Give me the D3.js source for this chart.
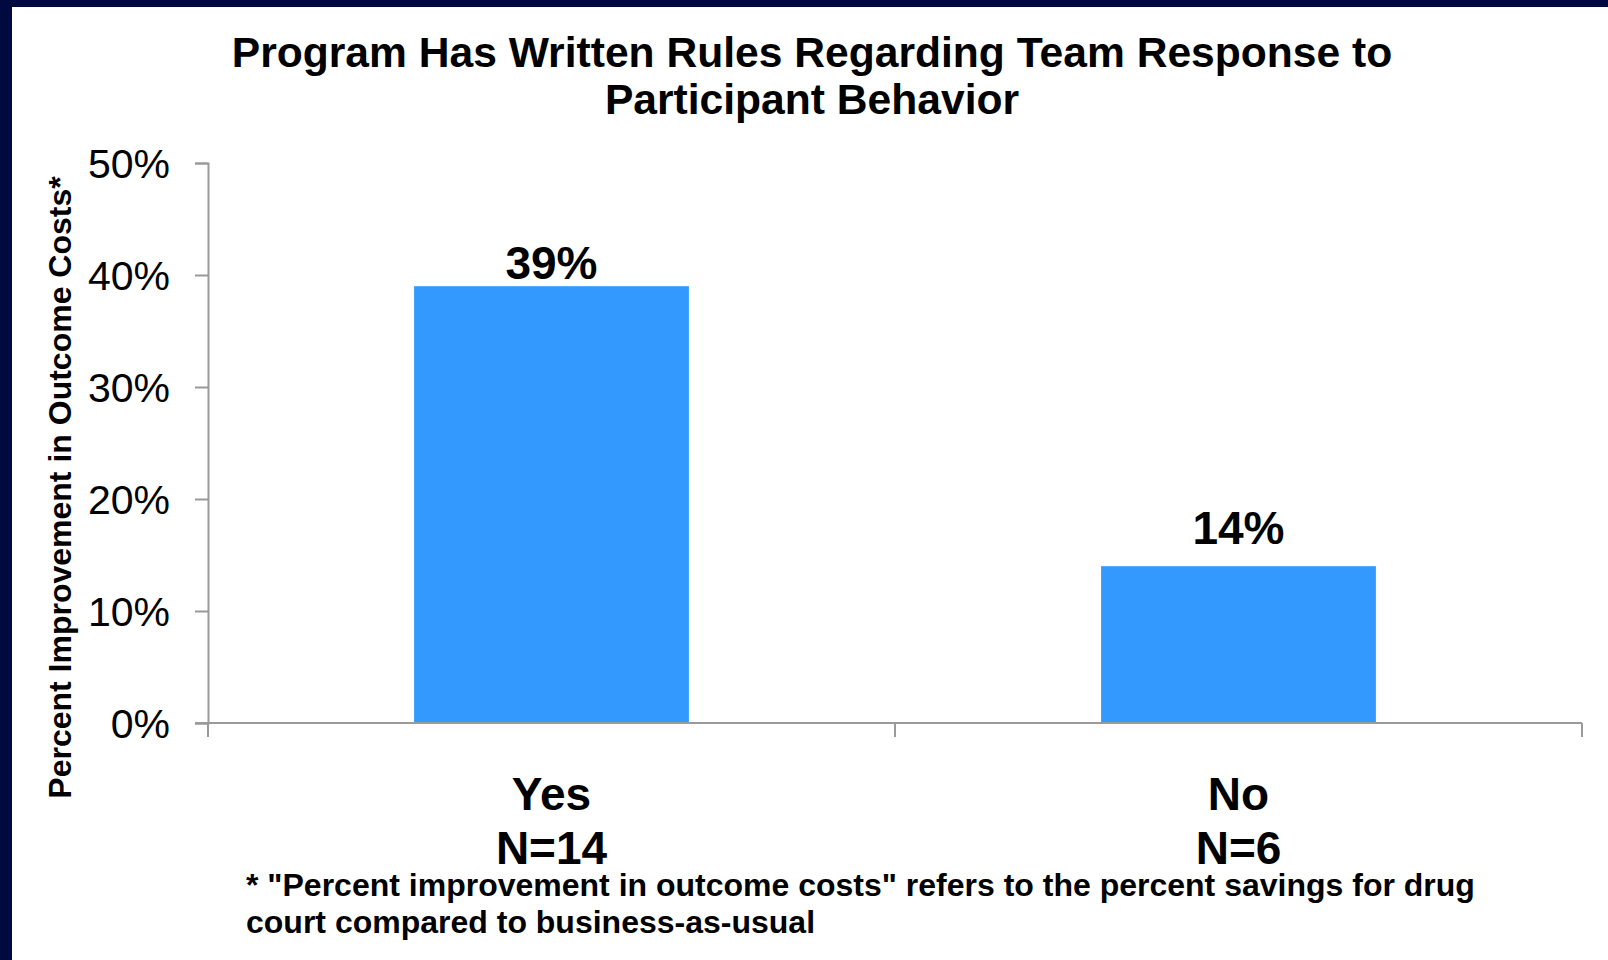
<!DOCTYPE html>
<html>
<head>
<meta charset="utf-8">
<script src="https://cdn.jsdelivr.net/npm/d3@7"></script>
<style>
  html, body { margin: 0; padding: 0; background: #ffffff; }
  svg { display: block; font-family: "Liberation Sans", Arial, sans-serif; }
</style>
</head>
<body>
<svg id="chart" width="1608" height="960"></svg>
<script>
// ---- data ----
const categories = ["Yes", "No"];
const sampleSizes = ["N=14", "N=6"];
const values = [39, 14];
const yTicks = [0, 10, 20, 30, 40, 50];
const titleLines = ["Program Has Written Rules Regarding Team Response to", "Participant Behavior"];
const yAxisTitle = "Percent Improvement in Outcome Costs*";
const footnoteLines = [
  "* \"Percent improvement in outcome costs\" refers to the percent savings for drug",
  "court compared to business-as-usual"
];

// ---- layout ----
const W = 1608, H = 960;
const plot = { left: 208, right: 1582, top: 163, bottom: 723 };
const navy = "#000940";
const barColor = "#3399FF";
const axisColor = "#9a9a9a";
const labelGap = [7, 22];

const svg = d3.select("#chart");

// frame
svg.append("rect").attr("x", 0).attr("y", 0).attr("width", W).attr("height", H).attr("fill", "#fff");
svg.append("rect").attr("x", 0).attr("y", 0).attr("width", W).attr("height", 7).attr("fill", navy);
svg.append("rect").attr("x", 0).attr("y", 0).attr("width", 12).attr("height", H).attr("fill", navy);

// scales
const x = d3.scaleBand().domain(categories).range([plot.left, plot.right])
  .paddingInner(0.6).paddingOuter(0.3);
const y = d3.scaleLinear().domain([0, 50]).range([plot.bottom, plot.top]);

// title
const title = svg.append("text").attr("text-anchor", "middle")
  .attr("font-weight", "bold").attr("font-size", 42.6).attr("fill", "#000");
titleLines.forEach((t, i) => {
  title.append("tspan").attr("x", 812).attr("y", 67 + i * 47).text(t);
});

// bars
svg.append("g").selectAll("rect").data(values).join("rect")
  .attr("x", (d, i) => x(categories[i]))
  .attr("y", d => y(d))
  .attr("width", x.bandwidth())
  .attr("height", d => y(0) - y(d))
  .attr("fill", barColor);

// value labels
svg.append("g").selectAll("text").data(values).join("text")
  .attr("x", (d, i) => x(categories[i]) + x.bandwidth() / 2)
  .attr("y", (d, i) => y(d) - labelGap[i])
  .attr("text-anchor", "middle")
  .attr("font-weight", "bold").attr("font-size", 46).attr("fill", "#000")
  .text(d => d + "%");

// y axis
const yAxis = d3.axisLeft(y).tickValues(yTicks).tickFormat(d => d + "%").tickSize(13).tickPadding(25);
const gy = svg.append("g").attr("transform", `translate(${plot.left},0)`).call(yAxis);
gy.select(".domain").attr("stroke", axisColor).attr("stroke-width", 2);
gy.selectAll(".tick line").attr("stroke", axisColor).attr("stroke-width", 2);
gy.selectAll(".tick text").attr("font-size", 41).attr("fill", "#000")
  .attr("font-family", "Liberation Sans, Arial, sans-serif").attr("dy", "0.35em");

// x axis: line with ticks at band boundaries
const boundaries = [plot.left, ...categories.slice(1).map(c => x(c) - x.step() * x.paddingInner() / 2), plot.right];
const gx = svg.append("g");
gx.append("line").attr("x1", plot.left - 13).attr("x2", plot.right)
  .attr("y1", y(0)).attr("y2", y(0)).attr("stroke", axisColor).attr("stroke-width", 2);
gx.selectAll("line.tk").data(boundaries).join("line").attr("class", "tk")
  .attr("x1", d => d).attr("x2", d => d)
  .attr("y1", y(0)).attr("y2", y(0) + 14)
  .attr("stroke", axisColor).attr("stroke-width", 2);

// category labels
const cat = svg.append("g").selectAll("text").data(categories).join("text")
  .attr("text-anchor", "middle").attr("font-weight", "bold").attr("font-size", 46).attr("fill", "#000");
cat.append("tspan").attr("x", d => x(d) + x.bandwidth() / 2).attr("y", 810).text(d => d);
cat.append("tspan").attr("x", d => x(d) + x.bandwidth() / 2).attr("y", 864)
  .text((d, i) => sampleSizes[i]);

// y-axis title
svg.append("text")
  .attr("transform", `translate(71, ${(177 + 798) / 2}) rotate(-90)`)
  .attr("text-anchor", "middle").attr("font-weight", "bold").attr("font-size", 32).attr("fill", "#000")
  .text(yAxisTitle);

// footnote
const fn = svg.append("text").attr("font-weight", "bold").attr("font-size", 32).attr("fill", "#000");
footnoteLines.forEach((t, i) => {
  fn.append("tspan").attr("x", 246).attr("y", 896 + i * 37).text(t);
});
</script>
</body>
</html>
